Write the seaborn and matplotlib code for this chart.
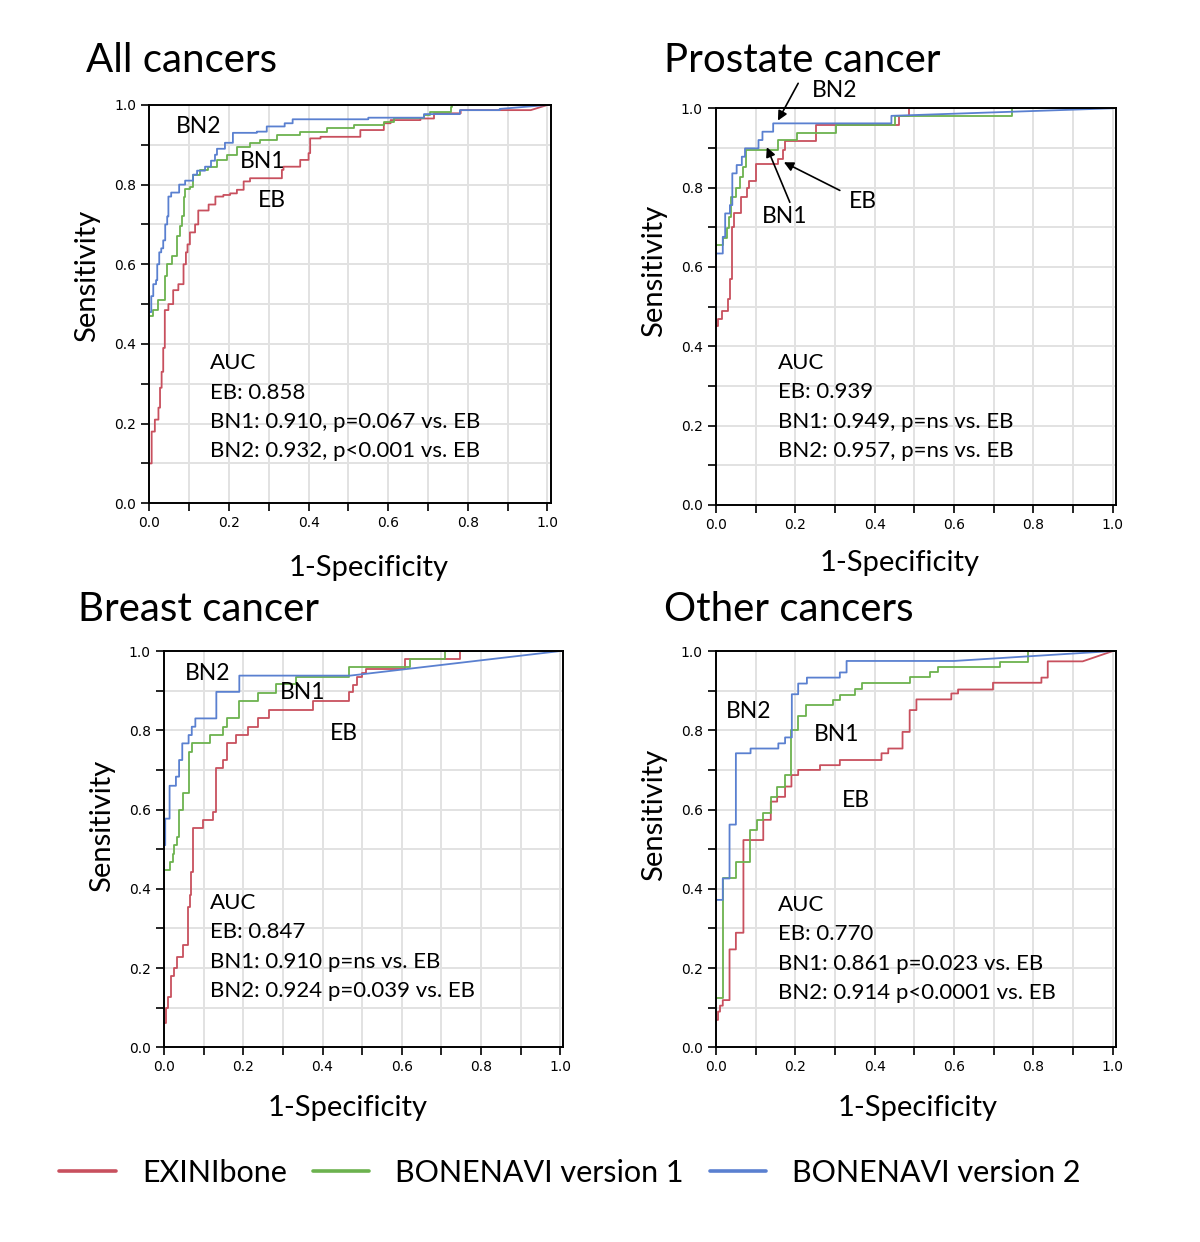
import numpy as np
import pandas as pd
import matplotlib
matplotlib.use('Agg')
import matplotlib.pyplot as plt
import seaborn as sns

# ROC step points: (false-positive rate where the step happens, sensitivity after it)
ALL_EB_X  = [0, 0.006, 0.014, 0.023, 0.027, 0.031, 0.035, 0.039, 0.048, 0.06, 0.073, 0.086, 0.092, 0.096,
             0.102, 0.115, 0.123, 0.149, 0.166, 0.186, 0.203, 0.22, 0.237, 0.253, 0.333, 0.337, 0.379,
             0.4, 0.404, 0.43, 0.53, 0.589, 0.606, 0.681, 0.715, 0.782, 0.958]
ALL_EB_Y  = [0.10, 0.18, 0.21, 0.24, 0.29, 0.33, 0.39, 0.485, 0.50, 0.535, 0.55, 0.60, 0.63, 0.65,
             0.68, 0.70, 0.735, 0.75, 0.77, 0.774, 0.778, 0.787, 0.808, 0.816, 0.837, 0.845, 0.862,
             0.879, 0.916, 0.92, 0.937, 0.954, 0.962, 0.966, 0.979, 0.987, 0.987]
ALL_BN1_X = [0, 0, 0.01, 0.023, 0.039, 0.044, 0.056, 0.069, 0.077, 0.081, 0.086, 0.09, 0.102, 0.111,
             0.128, 0.148, 0.169, 0.195, 0.22, 0.253, 0.279, 0.32, 0.379, 0.446, 0.513, 0.589, 0.614,
             0.69, 0.706, 0.757, 0.76]
ALL_BN1_Y = [0.34, 0.47, 0.485, 0.51, 0.57, 0.60, 0.62, 0.67, 0.695, 0.72, 0.77, 0.79, 0.795, 0.824,
             0.837, 0.845, 0.862, 0.874, 0.895, 0.904, 0.912, 0.925, 0.933, 0.941, 0.95, 0.958, 0.966,
             0.975, 0.983, 0.996, 1.0]
ALL_BN2_X = [0, 0.005, 0.01, 0.017, 0.02, 0.025, 0.03, 0.035, 0.04, 0.045, 0.048, 0.055, 0.075, 0.09,
             0.11, 0.12, 0.14, 0.155, 0.165, 0.17, 0.19, 0.21, 0.27, 0.295, 0.34, 0.36, 0.55, 0.69,
             0.78, 0.88]
ALL_BN2_Y = [0.48, 0.52, 0.55, 0.56, 0.60, 0.63, 0.64, 0.66, 0.70, 0.72, 0.77, 0.78, 0.80, 0.81,
             0.825, 0.835, 0.845, 0.86, 0.875, 0.89, 0.905, 0.93, 0.933, 0.946, 0.954, 0.964, 0.968,
             0.977, 0.987, 0.99]

PRO_EB_X  = [0, 0.005, 0.014, 0.031, 0.036, 0.040, 0.046, 0.063, 0.077, 0.084, 0.10, 0.157, 0.168,
             0.174, 0.252, 0.461, 0.487]
PRO_EB_Y  = [0.45, 0.47, 0.49, 0.52, 0.57, 0.70, 0.735, 0.777, 0.80, 0.818, 0.86, 0.873, 0.894,
             0.918, 0.958, 0.98, 1.0]
PRO_BN1_X = [0, 0, 0.017, 0.027, 0.033, 0.038, 0.050, 0.060, 0.069, 0.076, 0.157, 0.205, 0.302,
             0.45, 0.745]
PRO_BN1_Y = [0.51, 0.655, 0.672, 0.698, 0.726, 0.777, 0.798, 0.827, 0.852, 0.896, 0.919, 0.939,
             0.957, 0.98, 1.0]
PRO_BN2_X = [0, 0, 0.017, 0.023, 0.035, 0.041, 0.052, 0.065, 0.073, 0.107, 0.117, 0.144, 0.442]
PRO_BN2_Y = [0.53, 0.634, 0.676, 0.735, 0.756, 0.836, 0.857, 0.878, 0.899, 0.92, 0.941, 0.962, 0.981]

BRE_EB_X  = [0, 0.005, 0.01, 0.018, 0.025, 0.033, 0.048, 0.06, 0.065, 0.069, 0.073, 0.098, 0.123,
             0.132, 0.149, 0.158, 0.182, 0.212, 0.237, 0.265, 0.375, 0.468, 0.476, 0.488, 0.50,
             0.51, 0.608, 0.746]
BRE_EB_Y  = [0.06, 0.10, 0.127, 0.18, 0.20, 0.228, 0.258, 0.354, 0.384, 0.443, 0.554, 0.573, 0.594,
             0.704, 0.725, 0.767, 0.788, 0.809, 0.83, 0.851, 0.874, 0.897, 0.914, 0.935, 0.945,
             0.955, 0.979, 1.0]
BRE_BN1_X = [0, 0, 0.014, 0.022, 0.026, 0.032, 0.038, 0.047, 0.062, 0.07, 0.115, 0.149, 0.158,
             0.19, 0.237, 0.283, 0.333, 0.467, 0.62, 0.71]
BRE_BN1_Y = [0.384, 0.447, 0.468, 0.489, 0.51, 0.531, 0.598, 0.641, 0.746, 0.767, 0.788, 0.809,
             0.83, 0.874, 0.893, 0.916, 0.935, 0.959, 0.979, 1.0]
BRE_BN2_X = [0.003, 0.003, 0.014, 0.03, 0.038, 0.046, 0.062, 0.07, 0.079, 0.132, 0.19, 0.47]
BRE_BN2_Y = [0.51, 0.577, 0.66, 0.683, 0.725, 0.767, 0.788, 0.809, 0.83, 0.897, 0.938, 0.938]

OTH_EB_X  = [0, 0.005, 0.01, 0.017, 0.034, 0.05, 0.069, 0.119, 0.138, 0.154, 0.174, 0.19, 0.207,
             0.262, 0.312, 0.417, 0.434, 0.47, 0.488, 0.505, 0.593, 0.61, 0.698, 0.82, 0.836, 0.924]
OTH_EB_Y  = [0.069, 0.09, 0.105, 0.119, 0.247, 0.289, 0.523, 0.574, 0.62, 0.632, 0.658, 0.687, 0.70,
             0.712, 0.725, 0.742, 0.754, 0.796, 0.851, 0.878, 0.893, 0.903, 0.92, 0.933, 0.974, 0.974]
OTH_BN1_X = [0, 0.017, 0.05, 0.086, 0.102, 0.119, 0.138, 0.154, 0.174, 0.19, 0.207, 0.226, 0.295,
             0.312, 0.35, 0.367, 0.488, 0.539, 0.56, 0.715, 0.786]
OTH_BN1_Y = [0.124, 0.426, 0.468, 0.548, 0.574, 0.59, 0.632, 0.658, 0.687, 0.80, 0.836, 0.864, 0.876,
             0.889, 0.903, 0.92, 0.934, 0.946, 0.96, 0.973, 1.0]
OTH_BN2_X = [0, 0.017, 0.034, 0.05, 0.087, 0.157, 0.174, 0.191, 0.207, 0.229, 0.312, 0.329, 0.6]
OTH_BN2_Y = [0.372, 0.426, 0.562, 0.742, 0.754, 0.767, 0.782, 0.891, 0.918, 0.933, 0.946, 0.975, 0.975]

PANELS = ['All cancers', 'Prostate cancer', 'Breast cancer', 'Other cancers']
MODELS = ['EXINIbone', 'BONENAVI version 1', 'BONENAVI version 2']
COLORS = ['#c8505e', '#6cb24e', '#5a80d0']
CURVES = {
    'All cancers':     [(ALL_EB_X, ALL_EB_Y), (ALL_BN1_X, ALL_BN1_Y), (ALL_BN2_X, ALL_BN2_Y)],
    'Prostate cancer': [(PRO_EB_X, PRO_EB_Y), (PRO_BN1_X, PRO_BN1_Y), (PRO_BN2_X, PRO_BN2_Y)],
    'Breast cancer':   [(BRE_EB_X, BRE_EB_Y), (BRE_BN1_X, BRE_BN1_Y), (BRE_BN2_X, BRE_BN2_Y)],
    'Other cancers':   [(OTH_EB_X, OTH_EB_Y), (OTH_BN1_X, OTH_BN1_Y), (OTH_BN2_X, OTH_BN2_Y)],
}
AUC_TEXT = {
    'All cancers':     ['AUC', 'EB: 0.858', 'BN1: 0.910, p=0.067 vs. EB', 'BN2: 0.932, p<0.001 vs. EB'],
    'Prostate cancer': ['AUC', 'EB: 0.939', 'BN1: 0.949, p=ns vs. EB', 'BN2: 0.957, p=ns vs. EB'],
    'Breast cancer':   ['AUC', 'EB: 0.847', 'BN1: 0.910 p=ns vs. EB', 'BN2: 0.924 p=0.039 vs. EB'],
    'Other cancers':   ['AUC', 'EB: 0.770', 'BN1: 0.861 p=0.023 vs. EB', 'BN2: 0.914 p<0.0001 vs. EB'],
}


def stairs(xs, ys):
    """Expand step points into a staircase, then run straight on to (1, 1)."""
    px, py = [xs[0]], [ys[0]]
    for i in range(1, len(xs)):
        px += [xs[i], xs[i]]
        py += [ys[i - 1], ys[i]]
    px.append(1.0)
    py.append(1.0)
    return px, py


sns.set_style('white')
plt.rcParams['font.family'] = ['Lato', 'DejaVu Sans']
plt.rcParams['text.color'] = 'black'
plt.rcParams['axes.labelcolor'] = 'black'
plt.rcParams['xtick.color'] = 'black'
plt.rcParams['ytick.color'] = 'black'

fig = plt.figure(figsize=(12, 12.42), dpi=100)
boxes = {
    'All cancers':     [0.1244, 0.5948, 0.3345, 0.3207],
    'Prostate cancer': [0.5967, 0.5934, 0.3333, 0.3194],
    'Breast cancer':   [0.1367, 0.1568, 0.3328, 0.3190],
    'Other cancers':   [0.5967, 0.1568, 0.3333, 0.3190],
}
title_x = {'All cancers': 0.0717, 'Prostate cancer': 0.5533,
           'Breast cancer': 0.065, 'Other cancers': 0.5533}
title_y = {'All cancers': 0.951, 'Prostate cancer': 0.951,
           'Breast cancer': 0.509, 'Other cancers': 0.509}
# axis-label positions (axes fraction)
ylab_y = {'All cancers': 0.57, 'Prostate cancer': 0.59, 'Breast cancer': 0.56, 'Other cancers': 0.586}
xlab_x = {'All cancers': 0.546, 'Prostate cancer': 0.46, 'Breast cancer': 0.46, 'Other cancers': 0.505}
xlab_y = {'All cancers': -0.131, 'Prostate cancer': -0.113, 'Breast cancer': -0.121, 'Other cancers': -0.121}
# (text, x, y) of the curve labels inside each panel
labels = {
    'All cancers':     [('BN2', 0.123, 0.945), ('BN1', 0.284, 0.857), ('EB', 0.309, 0.759)],
    'Prostate cancer': [('BN2', 0.30, 1.045), ('BN1', 0.174, 0.728), ('EB', 0.37, 0.766)],
    'Breast cancer':   [('BN2', 0.111, 0.944), ('BN1', 0.35, 0.896), ('EB', 0.453, 0.793)],
    'Other cancers':   [('BN2', 0.083, 0.848), ('BN1', 0.305, 0.79), ('EB', 0.353, 0.624)],
}
auc_pos = {'All cancers': (0.153, 0.352), 'Prostate cancer': (0.156, 0.358),
           'Breast cancer': (0.116, 0.364), 'Other cancers': (0.156, 0.359)}

axes = []
for name in PANELS:
    ax = fig.add_axes(boxes[name])
    axes.append(ax)
    rows = []
    for model, (xs, ys) in zip(MODELS, CURVES[name]):
        px, py = stairs(xs, ys)
        rows.append(pd.DataFrame({'fpr': px, 'tpr': py, 'model': model}))
    df = pd.concat(rows, ignore_index=True)
    sns.lineplot(data=df, x='fpr', y='tpr', hue='model', hue_order=MODELS, palette=COLORS,
                 sort=False, estimator=None, linewidth=1.3, legend=False, ax=ax)

    ax.set_xlim(0, 1.008)
    ax.set_ylim(0, 1.0)
    ax.set_xticks(np.arange(0, 1.01, 0.2))
    ax.set_yticks(np.arange(0, 1.01, 0.2))
    ax.set_xticks(np.arange(0.1, 1.0, 0.2), minor=True)
    ax.set_yticks(np.arange(0.1, 1.0, 0.2), minor=True)
    ax.set_xticklabels([f'{v:.1f}' for v in np.arange(0, 1.01, 0.2)], family='DejaVu Sans', fontsize=10)
    ax.set_yticklabels([f'{v:.1f}' for v in np.arange(0, 1.01, 0.2)], family='DejaVu Sans', fontsize=10)
    ax.tick_params(which='both', direction='out', length=6, width=1.2, color='black',
                   bottom=True, left=True)
    ax.grid(which='both', color='#e2e2e2', linewidth=1.4)
    ax.set_axisbelow(True)
    for sp in ax.spines.values():
        sp.set_color('black')
        sp.set_linewidth(1.4)

    ax.set_xlabel('1-Specificity', fontsize=21)
    ax.set_ylabel('Sensitivity', fontsize=21, labelpad=10)
    ax.xaxis.set_label_coords(xlab_x[name], xlab_y[name], transform=ax.transAxes)
    ax.yaxis.label.set_y(ylab_y[name])
    fig.text(title_x[name], title_y[name], name, fontsize=29, ha='left', va='center')

    for txt, x, y in labels[name]:
        ax.text(x, y, txt, fontsize=16.5, ha='center', va='center', clip_on=False)
    ax_x, ax_y = auc_pos[name]
    for i, line in enumerate(AUC_TEXT[name]):
        ax.text(ax_x, ax_y - i * 0.074, line, fontsize=16, ha='left', va='center')

# arrows pointing at the crowded prostate curves
pro = axes[1]
for tail, head in [((0.207, 1.063), (0.156, 0.969)),
                   ((0.186, 0.763), (0.128, 0.902)),
                   ((0.312, 0.793), (0.171, 0.864))]:
    pro.annotate('', xy=head, xytext=tail, annotation_clip=False,
                 arrowprops=dict(arrowstyle='-|>', color='black', lw=1.2, mutation_scale=14,
                                 shrinkA=0, shrinkB=0))

handles = axes[0].get_lines()[:3]
leg = fig.legend(handles, MODELS, loc='center', bbox_to_anchor=(0.475, 1 - 1173 / 1242), ncol=3,
                 frameon=False, fontsize=22, handlelength=1.85, handletextpad=0.85, columnspacing=0.85)
for h in leg.get_lines():
    h.set_linewidth(2.6)

fig.savefig('out.png', dpi=100)
